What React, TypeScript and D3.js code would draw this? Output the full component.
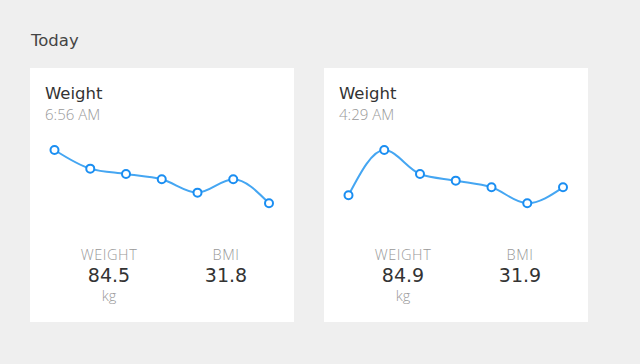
import React, { useRef, useEffect } from "react";
import * as d3 from "d3";

// readings per card, oldest to newest
const times = ["6:56 AM", "4:29 AM"];
const weightSeries1 = [86.5, 85.8, 85.6, 85.4, 84.9, 85.4, 84.5];
const weightSeries2 = [84.6, 86.3, 85.4, 85.15, 84.9, 84.3, 84.9];
const weights = ["84.5", "84.9"];
const bmis = ["31.8", "31.9"];

const series = [weightSeries1, weightSeries2];

const App = () => {
  const ref = useRef<SVGSVGElement>(null);

  useEffect(() => {
    const width = 640;
    const height = 364;
    const card = { w: 264, h: 254, top: 68, gap: 30, left: 30 };
    const darkFont = "'DejaVu Sans', sans-serif";
    const lightFont = "'Open Sans', sans-serif";

    const svg = d3.select(ref.current)
      .attr("width", width)
      .attr("height", height);
    svg.selectAll("*").remove();

    svg.append("rect")
      .attr("width", width)
      .attr("height", height)
      .attr("fill", "#efefef");

    svg.append("text")
      .attr("x", 31)
      .attr("y", 46)
      .attr("font-family", darkFont)
      .attr("font-size", 16.5)
      .attr("fill", "#444")
      .text("Today");

    series.forEach((values, c) => {
      const g = svg.append("g")
        .attr("transform", `translate(${card.left + c * (card.w + card.gap)},${card.top})`);

      g.append("rect")
        .attr("width", card.w)
        .attr("height", card.h)
        .attr("fill", "#fff");

      g.append("text")
        .attr("x", 15)
        .attr("y", 30.5)
        .attr("font-family", darkFont)
        .attr("font-size", 16.5)
        .attr("fill", "#333")
        .text("Weight");

      g.append("text")
        .attr("x", 15)
        .attr("y", 51.5)
        .attr("font-family", lightFont)
        .attr("font-weight", 300)
        .attr("font-size", 15)
        .attr("fill", "#999")
        .text(times[c]);

      const x = d3.scalePoint<number>()
        .domain(d3.range(values.length))
        .range([24.5, 239]);
      const y = d3.scaleLinear()
        .domain(d3.extent(values) as [number, number])
        .range([135.3, 82]);

      const line = d3.line<number>()
        .x((d, i) => x(i)!)
        .y(d => y(d))
        .curve(d3.curveMonotoneX);

      g.append("path")
        .datum(values)
        .attr("d", line)
        .attr("fill", "none")
        .attr("stroke", "#45a6f2")
        .attr("stroke-width", 2);

      g.selectAll("circle")
        .data(values)
        .join("circle")
        .attr("cx", (d, i) => x(i)!)
        .attr("cy", d => y(d))
        .attr("r", 4)
        .attr("fill", "#fff")
        .attr("stroke", "#1a8ef2")
        .attr("stroke-width", 2);

      const stats = [
        { label: "WEIGHT", value: weights[c], unit: "kg", cx: 79 },
        { label: "BMI", value: bmis[c], unit: "", cx: 196 }
      ];

      stats.forEach(s => {
        g.append("text")
          .attr("x", s.cx)
          .attr("y", 192)
          .attr("text-anchor", "middle")
          .attr("font-family", lightFont)
          .attr("font-weight", 300)
          .attr("font-size", 14.5)
          .attr("letter-spacing", 0.6)
          .attr("fill", "#999")
          .text(s.label);

        g.append("text")
          .attr("x", s.cx)
          .attr("y", 213.5)
          .attr("text-anchor", "middle")
          .attr("font-family", darkFont)
          .attr("font-size", 19)
          .attr("fill", "#333")
          .text(s.value);

        g.append("text")
          .attr("x", s.cx)
          .attr("y", 233)
          .attr("text-anchor", "middle")
          .attr("font-family", lightFont)
          .attr("font-weight", 300)
          .attr("font-size", 14.5)
          .attr("fill", "#999")
          .text(s.unit);
      });
    });
  }, []);

  return (
    <svg ref={ref} style={{ position: "absolute", left: 0, top: 0 }} />
  );
};

export default App;
